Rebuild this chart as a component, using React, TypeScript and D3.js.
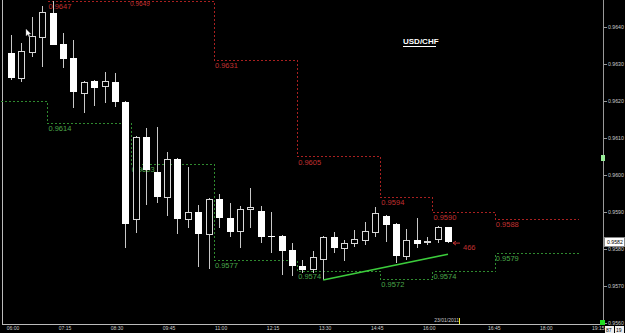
import React from "react";
import * as d3 from "d3";

const W = 625;
const H = 333;

// 15-minute candles, USD/CHF
const opens = [0.96330,0.96262,0.96332,0.96373,0.96438,0.96354,0.96316,0.96222,0.96254,0.96241,0.96251,0.96197,0.95881,0.96103,0.96008,0.95941,0.96043,0.95881,0.95900,0.95841,0.95935,0.95884,0.95849,0.95908,0.95903,0.95835,0.95835,0.95797,0.95754,0.95746,0.95773,0.95832,0.95803,0.95816,0.95824,0.95846,0.95889,0.95868,0.95781,0.95824,0.95821,0.95827,0.95859];
const highs = [0.96378,0.96357,0.96427,0.96457,0.96470,0.96384,0.96365,0.96253,0.96256,0.96278,0.96276,0.96199,0.96105,0.96127,0.96130,0.96062,0.96045,0.96022,0.95919,0.95938,0.95949,0.95924,0.95916,0.95965,0.95916,0.95900,0.95838,0.95816,0.95770,0.95795,0.95835,0.95846,0.95824,0.95851,0.95873,0.95914,0.95891,0.95870,0.95854,0.95884,0.95832,0.95862,0.95859];
const lows = [0.96257,0.96251,0.96319,0.96292,0.96350,0.96289,0.96181,0.96168,0.96186,0.96195,0.96184,0.95803,0.95843,0.95919,0.95924,0.95889,0.95841,0.95857,0.95751,0.95746,0.95857,0.95832,0.95803,0.95857,0.95816,0.95789,0.95730,0.95727,0.95735,0.95735,0.95716,0.95789,0.95768,0.95805,0.95811,0.95832,0.95819,0.95762,0.95770,0.95803,0.95811,0.95816,0.95816];
const closes = [0.96262,0.96335,0.96376,0.96441,0.96351,0.96314,0.96224,0.96251,0.96235,0.96254,0.96197,0.95868,0.96103,0.96014,0.95941,0.96043,0.95881,0.95900,0.95841,0.95935,0.95884,0.95846,0.95908,0.95914,0.95832,0.95832,0.95795,0.95754,0.95743,0.95778,0.95832,0.95803,0.95816,0.95827,0.95849,0.95897,0.95865,0.95781,0.95824,0.95814,0.95822,0.95859,0.95820];

// price axis
const priceTicks = [0.9640,0.9630,0.9620,0.9610,0.9600,0.9590,0.9580,0.9570,0.9560];
const lastPrice = 0.9582;

// time axis (bar index positions)
const timeLabels = ["06:00","07:15","08:30","09:45","11:00","12:15","13:30","14:45","16:00","16:45","18:00","19:15"];
const timeIndex = [0,5,10,15,20,25,30,35,40,46.25,51.25,56.25];
const dateLabel = "23/01/2011";
const dateIndex = 41.1;

// pivot steps
const resStarts = [3.5,19.5,27.5,35.5,40.5,46.5];
const resEnds = [19.5,27.5,35.5,40.5,46.5,54.5];
const resLevels = [0.9647,0.9631,0.9605,0.9594,0.9590,0.9588];
const supStarts = [-1.06,3.5,11.5,19.5,27.5,35.5,40.5,46.5];
const supEnds = [3.5,11.5,19.5,27.5,35.5,40.5,46.5,54.5];
const supLevels = [0.9620,0.9614,0.9603,0.9577,0.9574,0.9572,0.9574,0.9579];
const supShowLabel = [false,true,true,true,true,true,true,true];
const topLabel = "0.9649";

// trend line
const trendIdx = [30, 42];
const trendPrice = [0.95716, 0.95786];

export default function App() {
  const x = d3.scaleLinear().domain([0, 42]).range([11, 448]);
  const y = d3.scaleLinear().domain([0.9560, 0.9640]).range([323, 27]);
  const px = (v: number) => Math.round(x(v)) + 0.5;
  const py = (v: number) => Math.round(y(v)) + 0.5;
  const fmt = d3.format(".4f");

  const red = "#a82020";
  const redText = "#c03030";
  const green = "#2f8a2f";
  const greenText = "#4aa64a";

  const stepPath = (starts: number[], ends: number[], levels: number[]) => {
    let d = "";
    starts.forEach((s, i) => {
      const xs = px(s), xe = px(ends[i]), yy = py(levels[i]);
      if (i === 0) d += `M${xs},${yy}`;
      else d += `L${xs},${yy}`;
      d += `L${xe},${yy}`;
    });
    return d;
  };

  const bodyW = 7;
  const trendLine = d3.line<number>().x((_, i) => x(trendIdx[i])).y((p) => y(p));

  return (
    <svg width={W} height={H} style={{ position: "fixed", left: 0, top: 0, background: "#000" }}
      fontFamily="'Liberation Sans', Arial, sans-serif">
      <rect x={0} y={0} width={W} height={H} fill="#000" />

      {/* frame */}
      <line x1={2.5} y1={0} x2={2.5} y2={324} stroke="#bbb" shapeRendering="crispEdges" />
      <line x1={2} y1={324.5} x2={604} y2={324.5} stroke="#bbb" shapeRendering="crispEdges" />
      <line x1={603.5} y1={0} x2={603.5} y2={325} stroke="#999" shapeRendering="crispEdges" />

      {/* pivot step lines */}
      <path d={stepPath(resStarts, resEnds, resLevels)} fill="none" stroke={red} strokeDasharray="2 2" shapeRendering="crispEdges" />
      <path d={stepPath(supStarts, supEnds, supLevels)} fill="none" stroke={green} strokeDasharray="2 2" shapeRendering="crispEdges" />
      {resLevels.map((l, i) => (
        <text key={"rl" + i} x={x(resStarts[i]) + 1} y={y(l) + 8} fontSize={7.5} fill={redText}>{fmt(l)}</text>
      ))}
      <text x={130} y={6} fontSize={6.5} fill={redText}>{topLabel}</text>
      {supLevels.map((l, i) => supShowLabel[i] ? (
        <text key={"sl" + i} x={x(supStarts[i]) + 1} y={y(l) + 8} fontSize={7.5} fill={greenText}>{fmt(l)}</text>
      ) : null)}

      {/* candles */}
      {opens.map((o, i) => {
        const c = closes[i];
        const up = c > o;
        const cx = px(i);
        const top = Math.round(y(Math.max(o, c)));
        const bot = Math.round(y(Math.min(o, c)));
        const h = Math.max(1, bot - top);
        return (
          <g key={"c" + i} shapeRendering="crispEdges">
            <line x1={cx} x2={cx} y1={Math.round(y(highs[i]))} y2={Math.round(y(lows[i]))} stroke="#c8c8c8" />
            {up ? (
              <rect x={cx - bodyW / 2} y={top + 0.5} width={bodyW - 1} height={h} fill="#000" stroke="#d8d8d8" />
            ) : (
              <rect x={cx - bodyW / 2 - 0.5} y={top} width={bodyW} height={h} fill="#fff" />
            )}
          </g>
        );
      })}

      {/* trend line */}
      <path d={trendLine(trendPrice) || ""} fill="none" stroke="#3ccc3c" strokeWidth={1.5} />

      {/* arrow + count */}
      <path d={`M${x(42) + 5},${y(lastPrice) + 1.5} L${x(42) + 12},${y(lastPrice) + 1.5}`} stroke={redText} />
      <path d={`M${x(42) + 5},${y(lastPrice) + 1.5} l3,-2 M${x(42) + 5},${y(lastPrice) + 1.5} l3,2`} stroke={redText} fill="none" />
      <text x={463} y={y(lastPrice) + 8} fontSize={7.5} fill={redText}>466</text>

      {/* title */}
      <text x={403} y={44} fontSize={8} fontWeight="bold" fill="#fff">USD/CHF</text>
      <line x1={403} x2={436} y1={46} y2={46} stroke="#fff" shapeRendering="crispEdges" />

      {/* price axis */}
      {priceTicks.map((t) => (
        <g key={"pt" + t}>
          <line x1={604} x2={607} y1={py(t)} y2={py(t)} stroke="#999" shapeRendering="crispEdges" />
          <text x={608} y={y(t) + 2} fontSize={5.2} fill="#ccc">{fmt(t)}</text>
        </g>
      ))}
      <rect x={604.5} y={y(lastPrice) - 4.5} width={20} height={9} fill="#fff" stroke="#888" shapeRendering="crispEdges" />
      <text x={607} y={y(lastPrice) + 2} fontSize={5.2} fill="#000">{fmt(lastPrice)}</text>
      <rect x={601} y={155} width={4} height={6} fill="#9e9" />

      {/* time axis */}
      {timeLabels.map((t, i) => (
        <text key={"tl" + i} x={x(timeIndex[i]) + 2} y={330} fontSize={5} fill="#ccc" textAnchor="middle">{t}</text>
      ))}
      <text x={x(dateIndex) + 8} y={322} fontSize={5} fill="#ccc" textAnchor="middle">{dateLabel}</text>
      <line x1={459.5} x2={459.5} y1={318} y2={324} stroke="#ee2" shapeRendering="crispEdges" />

      {/* corner widgets */}
      <rect x={600} y={320} width={5} height={5} fill="#2d2" />
      <rect x={605} y={326} width={9} height={7} fill="#eee" />
      <rect x={615} y={326} width={9} height={7} fill="#eee" />
      <text x={606} y={332} fontSize={5} fill="#000">87</text>
      <text x={616} y={332} fontSize={5} fill="#000">19</text>

      {/* mouse pointer */}
      <path d="M26,29 L26,36 L27.8,34.5 L29,37 L30,36.5 L28.9,34 L31,34 Z" fill="#fff" stroke="#888" strokeWidth={0.4} />
    </svg>
  );
}
